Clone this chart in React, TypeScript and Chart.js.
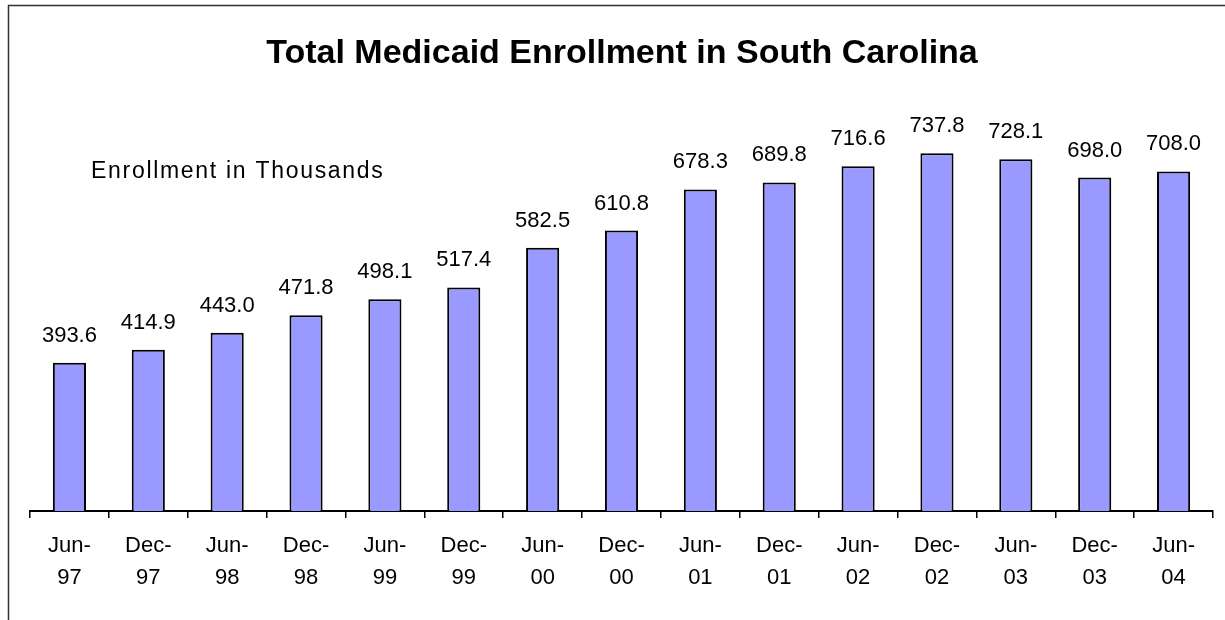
import React, { useEffect, useRef } from "react";
import { Chart, registerables } from "chart.js";

Chart.register(...registerables);

const monthLabels = ["Jun-", "Dec-", "Jun-", "Dec-", "Jun-", "Dec-", "Jun-", "Dec-", "Jun-", "Dec-", "Jun-", "Dec-", "Jun-", "Dec-", "Jun-"];
const yearLabels = ["97", "97", "98", "98", "99", "99", "00", "00", "01", "01", "02", "02", "03", "03", "04"];
const enrollment = [393.6, 414.9, 443.0, 471.8, 498.1, 517.4, 582.5, 610.8, 678.3, 689.8, 716.6, 737.8, 728.1, 698.0, 708.0];
const titleText = "Total Medicaid Enrollment in South Carolina";
const subtitleText = "Enrollment in Thousands";

const FONT = '"Liberation Sans", Arial, sans-serif';

export default function App() {
  const ref = useRef<HTMLCanvasElement | null>(null);

  useEffect(() => {
    document.body.style.margin = "0";
    const canvas = ref.current;
    if (!canvas) return;

    const decor = {
      id: "decor",
      afterDraw(chart: any) {
        const ctx = chart.ctx;
        ctx.save();
        // frame
        ctx.strokeStyle = "#333";
        ctx.lineWidth = 1.5;
        ctx.beginPath();
        ctx.moveTo(8.5, 640);
        ctx.lineTo(8.5, 5.5);
        ctx.lineTo(1260, 5.5);
        ctx.stroke();
        // title
        ctx.fillStyle = "#000";
        ctx.textBaseline = "alphabetic";
        ctx.textAlign = "center";
        ctx.font = `bold 34px ${FONT}`;
        ctx.fillText(titleText, 622, 63);
        // subtitle
        ctx.textAlign = "left";
        ctx.font = `23px ${FONT}`;
        (ctx as any).letterSpacing = "1.7px";
        ctx.fillText(subtitleText, 91, 178);
        (ctx as any).letterSpacing = "0px";
        // data labels
        ctx.textAlign = "center";
        ctx.font = `22px ${FONT}`;
        const meta = chart.getDatasetMeta(0);
        meta.data.forEach((bar: any, i: number) => {
          ctx.fillText(enrollment[i].toFixed(1), bar.x, bar.y - 21);
        });
        ctx.restore();
      },
    };

    const chart = new Chart(canvas, {
      type: "bar",
      data: {
        labels: monthLabels.map((m, i) => [m, yearLabels[i]]),
        datasets: [
          {
            data: enrollment,
            backgroundColor: "#9999FF",
            borderColor: "#000",
            borderWidth: 2,
            barPercentage: 0.42,
            categoryPercentage: 1,
          },
        ],
      },
      options: {
        responsive: false,
        animation: false,
        devicePixelRatio: 1,
        layout: { padding: { left: 30, right: 12, top: 85, bottom: 0 } },
        plugins: {
          legend: { display: false },
          tooltip: { enabled: false },
          title: { display: false },
        },
        scales: {
          x: {
            grid: {
              display: true,
              drawOnChartArea: false,
              drawTicks: true,
              tickLength: 7,
              color: "#000",
              lineWidth: 1.5,
              offset: true,
            },
            border: { display: true, color: "#000", width: 2 },
            ticks: {
              color: "#000",
              font: { family: FONT, size: 22, lineHeight: 1.4545 },
              padding: 12,
              autoSkip: false,
              maxRotation: 0,
              minRotation: 0,
            },
            afterFit(scale: any) {
              scale.height = 109;
            },
          },
          y: {
            display: false,
            min: 150,
            max: 850,
          },
        },
      },
      plugins: [decor],
    });

    return () => chart.destroy();
  }, []);

  return (
    <div style={{ position: "absolute", left: 0, top: 0, width: 1225, height: 620, background: "#fff" }}>
      <canvas ref={ref} width={1225} height={620} />
    </div>
  );
}
